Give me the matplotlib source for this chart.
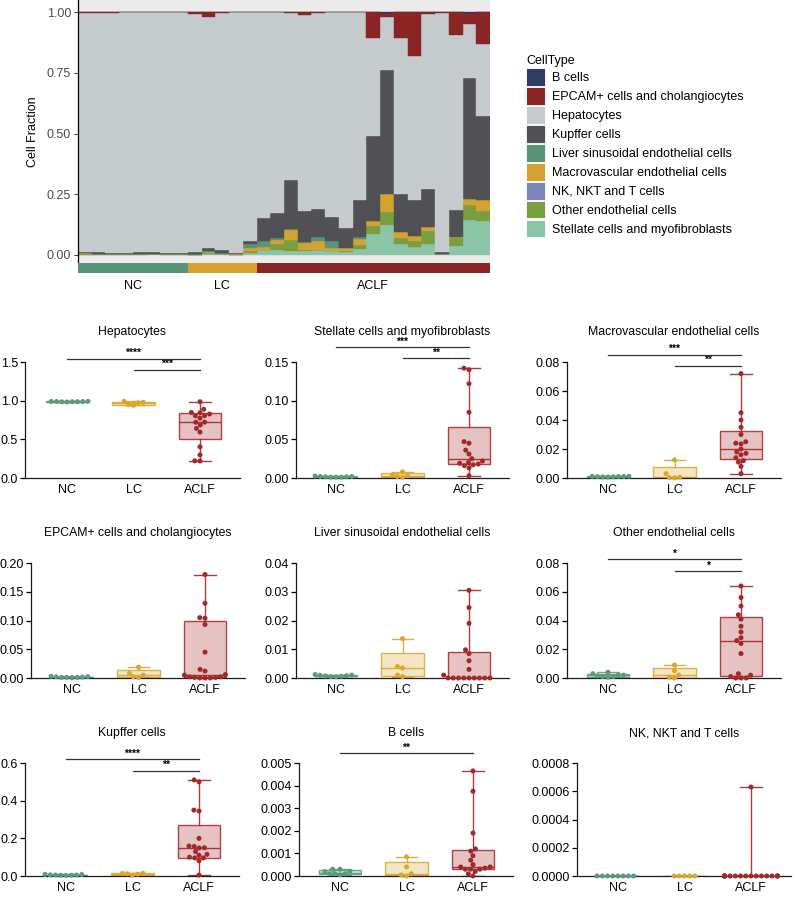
import warnings
warnings.filterwarnings('ignore')
import numpy as np
import pandas as pd
import matplotlib
matplotlib.use('Agg')
import matplotlib.pyplot as plt
from matplotlib.patches import Patch
from matplotlib.colors import to_rgba
import seaborn as sns

plt.rcParams['font.family'] = ['Liberation Sans', 'DejaVu Sans']

# ---------------- data ----------------
groups = ['NC', 'LC', 'ACLF']
group_sizes = [8, 5, 17]
sample_group = ['NC'] * 8 + ['LC'] * 5 + ['ACLF'] * 17

cell_types = ['B cells', 'EPCAM+ cells and cholangiocytes', 'Hepatocytes', 'Kupffer cells',
              'Liver sinusoidal endothelial cells', 'Macrovascular endothelial cells',
              'NK, NKT and T cells', 'Other endothelial cells', 'Stellate cells and myofibroblasts']

b_cells = [0.0001, 0.0003, 0.0002, 0.00005, 0.0001, 0.0002, 0.0003, 0.0001,
           0.00005, 0.0004, 0.00085, 0.0001, 0.0,
           0.0003, 0.0004, 0.0011, 0.0009, 0.0003, 0.0002, 0.0001, 0.0, 0.0012, 0.00465,
           0.0019, 0.0007, 0.0005, 0.0003, 0.0004, 0.00375, 0.00035]
epcam = [0.002, 0.003, 0.0025, 0.001, 0.0015, 0.001, 0.0005, 0.001,
         0.008, 0.019, 0.005, 0.001, 0.002,
         0.0, 0.001, 0.005, 0.012, 0.002, 0.001, 0.0, 0.0, 0.104, 0.015,
         0.105, 0.180, 0.006, 0.002, 0.093, 0.045, 0.130]
hepatocytes = [0.9853, 0.9825, 0.9891, 0.9889, 0.9868, 0.9865, 0.9902, 0.9920,
               0.9792, 0.9511, 0.9727, 0.9912, 0.9398,
               0.8472, 0.8278, 0.6859, 0.8051, 0.8067, 0.8433, 0.8889, 0.7745, 0.4038, 0.2197,
               0.6411, 0.5933, 0.7225, 0.9867, 0.7206, 0.2218, 0.2987]
kupffer = [0.005, 0.009, 0.004, 0.005, 0.006, 0.008, 0.004, 0.003,
           0.010, 0.014, 0.012, 0.005, 0.015,
           0.096, 0.100, 0.200, 0.130, 0.115, 0.096, 0.081, 0.150, 0.350, 0.510,
           0.159, 0.149, 0.157, 0.005, 0.110, 0.500, 0.345]
lsec = [0.0008, 0.0012, 0.0005, 0.001, 0.0006, 0.0004, 0.0009, 0.0007,
        0.001, 0.0035, 0.004, 0.0005, 0.0137,
        0.0245, 0.0098, 0.006, 0.003, 0.019, 0.0305, 0.001, 0.0085, 0.0, 0.0,
        0.0, 0.0, 0.0, 0.0, 0.0, 0.0, 0.0]
macro = [0.0008, 0.001, 0.0012, 0.0006, 0.001, 0.0009, 0.0011, 0.0007,
         0.0003, 0.003, 0.0005, 0.0002, 0.0125,
         0.012, 0.016, 0.040, 0.030, 0.035, 0.011, 0.014, 0.025, 0.020, 0.072,
         0.024, 0.018, 0.017, 0.003, 0.008, 0.0235, 0.045]
nk_t = [0.0] * 8 + [0.0] * 5 + [0.0, 0.0, 0.0, 0.0, 0.0, 0.0, 0.0, 0.0, 0.0, 0.00063,
                                0.0, 0.0, 0.0, 0.0, 0.0, 0.0, 0.0]
other_endo = [0.004, 0.002, 0.001, 0.0015, 0.003, 0.0005, 0.002, 0.001,
              0.0005, 0.005, 0.002, 0.0, 0.009,
              0.0, 0.026, 0.044, 0.003, 0.0, 0.001, 0.002, 0.017, 0.036, 0.056,
              0.024, 0.028, 0.050, 0.0, 0.032, 0.064, 0.041]
stellate = [0.002, 0.001, 0.0015, 0.002, 0.001, 0.0025, 0.001, 0.0015,
            0.001, 0.004, 0.003, 0.002, 0.008,
            0.020, 0.019, 0.018, 0.016, 0.022, 0.017, 0.013, 0.025, 0.085, 0.122,
            0.045, 0.031, 0.047, 0.003, 0.036, 0.142, 0.140]

fractions = dict(zip(cell_types, [b_cells, epcam, hepatocytes, kupffer, lsec, macro,
                                  nk_t, other_endo, stellate]))

# ---------------- styles ----------------
type_colors = {
    'B cells': '#2F3A66',
    'EPCAM+ cells and cholangiocytes': '#8B2424',
    'Hepatocytes': '#C5CBCC',
    'Kupffer cells': '#505055',
    'Liver sinusoidal endothelial cells': '#5A9476',
    'Macrovascular endothelial cells': '#D4A22F',
    'NK, NKT and T cells': '#7D88B9',
    'Other endothelial cells': '#7A9E3E',
    'Stellate cells and myofibroblasts': '#8CC4A7',
}
strip_colors = {'NC': '#5A9476', 'LC': '#D4A22F', 'ACLF': '#8B2424'}
box_colors = {'NC': '#5B9B7B', 'LC': '#D9A62E', 'ACLF': '#A3282A'}

W, H = 795, 897
fig = plt.figure(figsize=(W / 100, H / 100), dpi=100)


def px_axes(x0, y0, x1, y1):
    return fig.add_axes([x0 / W, 1 - y1 / H, (x1 - x0) / W, (y1 - y0) / H])


# ---------------- stacked bar ----------------
ax = px_axes(78, 0, 490, 262.7)
ax.set_facecolor('#EBEBEB')
n = len(sample_group)
xpos = np.arange(n)
bottom = np.zeros(n)
for name in cell_types[::-1]:
    vals = np.array(fractions[name])
    ax.bar(xpos, vals, bottom=bottom, width=1.0, color=type_colors[name],
           edgecolor=type_colors[name], linewidth=0.3, zorder=2)
    bottom += vals
ax.set_xlim(-0.5, n - 0.5)
ax.set_ylim(-0.0317, 1.0494)
ax.set_yticks([0, 0.25, 0.5, 0.75, 1.0])
ax.set_yticklabels(['0.00', '0.25', '0.50', '0.75', '1.00'])
ax.tick_params(axis='y', length=3, width=0.7, color='#333333', labelcolor='#4D4D4D',
               labelsize=9, pad=2)
ax.set_xticks([])
for s in ['top', 'right', 'bottom']:
    ax.spines[s].set_visible(False)
ax.spines['left'].set_color('black')
ax.spines['left'].set_linewidth(0.9)
ax.set_ylabel('Cell Fraction', fontsize=9)
ax.yaxis.set_label_coords(-0.095, 0.5)

# group strip
axs = px_axes(78, 263.3, 490, 272.7)
starts = np.cumsum([0] + group_sizes[:-1]) - 0.5
centers = starts + np.array(group_sizes) / 2
axs.bar(centers, 1, width=group_sizes, color=[strip_colors[g] for g in groups],
        linewidth=0)
axs.set_xlim(-0.5, n - 0.5)
axs.set_ylim(0, 1)
axs.axis('off')
for c, g in zip(centers, groups):
    axs.text(c, -1.45, g, ha='center', va='center', fontsize=9)

# legend
handles = [Patch(facecolor=type_colors[t], edgecolor='white', linewidth=0.6) for t in cell_types]
fig.legend(handles, cell_types, loc='upper left', bbox_to_anchor=(526 / W, 1 - 55 / H),
           frameon=False, title='CellType', alignment='left', fontsize=9,
           title_fontsize=9, handlelength=1.5, handleheight=1.8, handletextpad=0.55,
           labelspacing=0.1, borderpad=0, borderaxespad=0)

# ---------------- box panels ----------------
panels = [
    ('Hepatocytes', 1.5, 0.5, 1),
    ('Stellate cells and myofibroblasts', 0.15, 0.05, 2),
    ('Macrovascular endothelial cells', 0.08, 0.02, 2),
    ('EPCAM+ cells and cholangiocytes', 0.20, 0.05, 2),
    ('Liver sinusoidal endothelial cells', 0.04, 0.01, 2),
    ('Other endothelial cells', 0.08, 0.02, 2),
    ('Kupffer cells', 0.6, 0.2, 1),
    ('B cells', 0.005, 0.001, 3),
    ('NK, NKT and T cells', 0.0008, 0.0002, 4),
]
# significance brackets: (group_a, group_b, height, stars)
brackets = {
    'Hepatocytes': [(0, 2, 1.543, '****'), (1, 2, 1.40, '***')],
    'Stellate cells and myofibroblasts': [(0, 2, 0.169, '***'), (1, 2, 0.1547, '**')],
    'Macrovascular endothelial cells': [(0, 2, 0.085, '***'), (1, 2, 0.0773, '**')],
    'Other endothelial cells': [(0, 2, 0.0827, '*'), (1, 2, 0.0743, '*')],
    'Kupffer cells': [(0, 2, 0.6205, '****'), (1, 2, 0.559, '**')],
    'B cells': [(0, 2, 0.00543, '**')],
}

# layout per panel: (spine x px, first category centre x px)
panel_x = [(25, 67), (296, 336), (567, 608),
           (31, 72), (296, 336), (567, 608),
           (25, 66), (299, 340), (577, 618)]
row_y = [(362, 478), (563, 678), (763, 876)]
unit = 66.5
xhi = 2.6
top_frac = 1.2


def stats_of(v):
    v = np.asarray(v, dtype=float)
    q1, med, q3 = np.percentile(v, [25, 50, 75], method='weibull')
    return dict(med=med, q1=q1, q3=q3, whislo=v.min(), whishi=v.max(), fliers=[])


for k, (name, top, step, dec) in enumerate(panels):
    r, c = divmod(k, 3)
    ytop, y0 = row_y[r]
    spine_x, nc_x = panel_x[k]
    xlo = -(nc_x - spine_x) / unit
    x1 = spine_x + (xhi - xlo) * unit
    y1 = ytop - (top_frac - 1) * (y0 - ytop)
    a = px_axes(spine_x, y1, x1, y0)
    vals = np.array(fractions[name])
    df = pd.DataFrame({'group': sample_group, 'value': vals})
    st = [stats_of(df.loc[df.group == g, 'value']) for g in groups]
    bp = a.bxp(st, positions=[0, 1, 2], widths=0.64, patch_artist=True, showfliers=False,
               capwidths=0.32, manage_ticks=False)
    for i, g in enumerate(groups):
        col = box_colors[g]
        bp['boxes'][i].set_facecolor(to_rgba(col, 0.28))
        bp['boxes'][i].set_edgecolor(to_rgba(col, 0.85))
        bp['boxes'][i].set_linewidth(1.0)
        bp['medians'][i].set_color(to_rgba(col, 0.9))
        bp['medians'][i].set_linewidth(1.0)
        for j in (2 * i, 2 * i + 1):
            bp['whiskers'][j].set_color(to_rgba(col, 0.9))
            bp['whiskers'][j].set_linewidth(1.0)
            bp['caps'][j].set_color(to_rgba(col, 0.9))
            bp['caps'][j].set_linewidth(1.0)
    sns.swarmplot(data=df, x='group', y='value', order=groups, hue='group',
                  hue_order=groups, palette=box_colors, size=3.6, linewidth=0,
                  ax=a, legend=False, clip_on=False, zorder=3)
    a.set_xlim(xlo, xhi)
    a.set_ylim(0, top * top_frac)
    ticks = np.round(np.arange(0, top + step / 2, step), 6)
    a.set_yticks(ticks)
    a.set_yticklabels([f'{t:.{dec}f}' for t in ticks])
    a.set_xticks([0, 1, 2])
    a.set_xticklabels(groups)
    a.set_xlabel('')
    a.set_ylabel('')
    a.tick_params(axis='y', length=3.5, width=0.9, labelsize=9, pad=1.5, color='black')
    a.tick_params(axis='x', length=0, labelsize=9, pad=4)
    for s in ['top', 'right']:
        a.spines[s].set_visible(False)
    a.spines['left'].set_bounds(0, top)
    for s in ['left', 'bottom']:
        a.spines[s].set_linewidth(0.9)
        a.spines[s].set_color('#1A1A1A')
    a.set_title(name, fontsize=8.8, pad=3)
    for (ga, gb, hgt, stars) in brackets.get(name, []):
        a.plot([ga, gb], [hgt, hgt], color='#333333', lw=0.9, clip_on=False, zorder=4)
        a.annotate(stars, xy=((ga + gb) / 2, hgt), xytext=(0, 0.5), textcoords='offset points',
                   ha='center', va='bottom', fontsize=7.5, fontweight='bold',
                   annotation_clip=False)

fig.savefig('out.png', dpi=100)
